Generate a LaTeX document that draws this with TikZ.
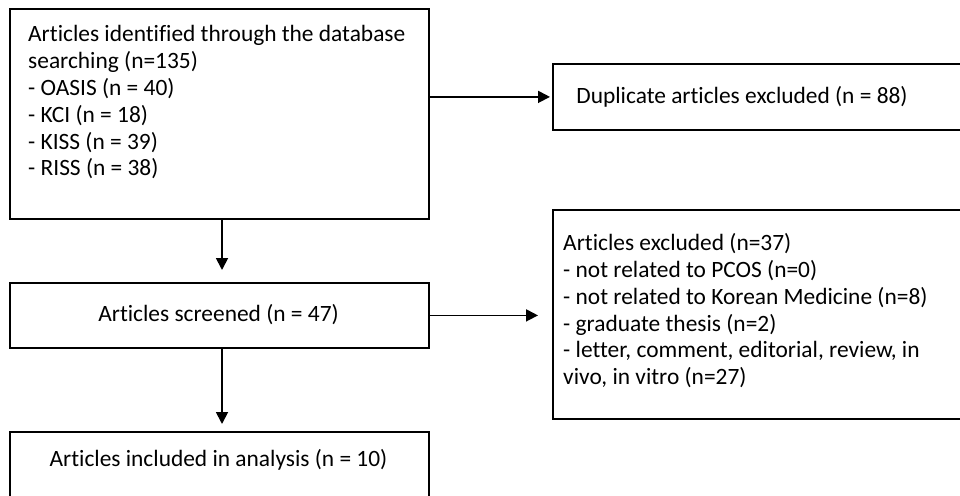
\documentclass[tikz,border=0pt]{standalone}
\usepackage{fontspec}
\setmainfont{Carlito}[Ligatures=NoCommon]
\usetikzlibrary{arrows.meta,calc}
\tikzset{
  box/.style={draw, line width=1.8pt, rectangle, inner sep=0pt, anchor=north west},
  txt/.style={inner sep=0pt, font=\fontsize{23.4}{26.9}\selectfont},
  arr/.style={line width=1.8pt, -{Triangle[length=12pt,width=12pt]}},
}
\begin{document}
\begin{tikzpicture}[x=1pt, y=-1pt]
  \useasboundingbox (0,0) rectangle (960,495);
  \clip (0,0) rectangle (960,495);
  \fill[white] (0,0) rectangle (960,495);

  % boxes
  \node[box, minimum width=500pt, minimum height=66pt]  (dupl)  at (552,63) {};
  \node[box, minimum width=419pt, minimum height=210pt] (ident) at (9,8) {};
  \node[box, minimum width=419pt, minimum height=65pt]  (screen) at (9,282) {};
  \node[box, minimum width=500pt, minimum height=209pt] (excl)  at (552,209) {};
  \node[box, minimum width=419pt, minimum height=100pt] (incl)  at (9,431) {};

  % texts
  \node[txt, anchor=north west, align=left] (identtxt) at (28,25)
    {Articles identified through the database\\
     searching (n=135)\\
     - OASIS (n = 40)\\
     - KCI (n = 18)\\
     - KISS (n = 39)\\
     - RISS (n = 38)};
  \node[txt] (dupltxt) at (742,97) {Duplicate articles excluded (n = 88)};
  \node[txt] (screentxt) at (218.5,315) {Articles screened (n = 47)};
  \node[txt, anchor=north west, align=left] (excltxt) at (563,233)
    {Articles excluded (n=37)\\
     - not related to PCOS (n=0)\\
     - not related to Korean Medicine (n=8)\\
     - graduate thesis (n=2)\\
     - letter, comment, editorial, review, in\\
     vivo, in vitro (n=27)};
  \node[txt] (incltxt) at (218.5,460) {Articles included in analysis (n = 10)};

  % connectors
  \coordinate (axis) at (222,0);
  \draw[arr, shorten >=12pt] (ident.south -| axis) -- (screen.north -| axis);
  \draw[arr, shorten >=7pt] (screen.south -| axis) -- (incl.north -| axis);
  \draw[arr, shorten >=2pt] (ident.east |- dupl.west) -- (dupl.west);
  \draw[arr, shorten >=14pt] (screen.east) -- (screen.east -| excl.west);
\end{tikzpicture}
\end{document}
